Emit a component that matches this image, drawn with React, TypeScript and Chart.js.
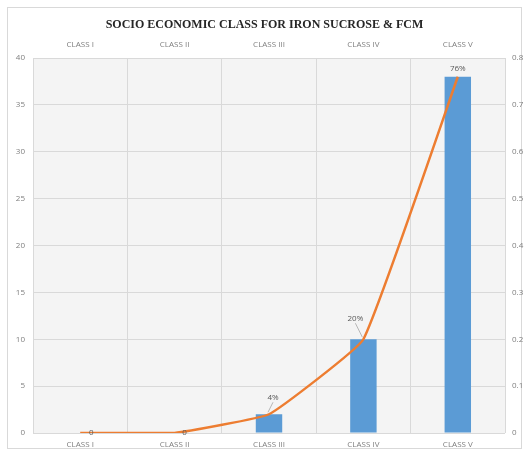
import React, { useEffect, useRef } from "react";
import { Chart, registerables } from "chart.js";

Chart.register(...registerables);

const categories = ["CLASS I", "CLASS II", "CLASS III", "CLASS IV", "CLASS V"];
const barValues = [0, 0, 2, 10, 38];
const lineValues = [0, 0, 0.04, 0.2, 0.76];
const lineLabels = ["0", "0", "4%", "20%", "76%"];
const leftTicks = [0, 5, 10, 15, 20, 25, 30, 35, 40];
const rightTicks = [0, 0.1, 0.2, 0.3, 0.4, 0.5, 0.6, 0.7, 0.8];
const titleText = "SOCIO ECONOMIC CLASS FOR IRON SUCROSE & FCM";

const TICK_FONT = "'Liberation Sans Narrow', 'Open Sans', 'Liberation Sans', sans-serif";

export default function App() {
  const ref = useRef<HTMLCanvasElement | null>(null);

  useEffect(() => {
    if (!ref.current) return;

    const bgPlugin = {
      id: "bgPlugin",
      beforeDraw(chart: any) {
        const { ctx, chartArea } = chart;
        ctx.save();
        ctx.fillStyle = "#ffffff";
        ctx.fillRect(0, 0, chart.width, chart.height);
        ctx.strokeStyle = "#d9d9d9";
        ctx.lineWidth = 1;
        ctx.strokeRect(7.5, 7.5, chart.width - 15, chart.height - 14);
        ctx.fillStyle = "#f4f4f4";
        ctx.fillRect(chartArea.left, chartArea.top, chartArea.right - chartArea.left, chartArea.bottom - chartArea.top);
        ctx.restore();
      },
    };

    // label offsets relative to each line point: [dx, dy, leader]
    const labelPlacement: [number, number, boolean][] = [
      [11, 0, false],
      [10, 0, false],
      [4, -17, true],
      [-8, -21, true],
      [0, -8, false],
    ];

    const labelPlugin = {
      id: "labelPlugin",
      afterDatasetsDraw(chart: any) {
        const { ctx } = chart;
        const meta = chart.getDatasetMeta(1);
        ctx.save();
        ctx.font = `8px ${TICK_FONT}`;
        ctx.fillStyle = "#595959";
        ctx.textAlign = "center";
        ctx.textBaseline = "middle";
        meta.data.forEach((pt: any, i: number) => {
          const [dx, dy, leader] = labelPlacement[i];
          const lx = pt.x + dx;
          const ly = pt.y + dy;
          if (leader) {
            ctx.strokeStyle = "#a6a6a6";
            ctx.lineWidth = 0.8;
            ctx.beginPath();
            ctx.moveTo(lx, ly + 5);
            ctx.lineTo(pt.x - 1, pt.y - 2);
            ctx.stroke();
          }
          ctx.fillText(lineLabels[i], lx, ly);
        });
        ctx.restore();
      },
    };

    const chart = new Chart(ref.current, {
      type: "bar",
      data: {
        labels: categories,
        datasets: [
          {
            type: "bar",
            label: "Count",
            data: barValues,
            backgroundColor: "#5b9bd5",
            borderWidth: 0,
            barPercentage: 0.56,
            categoryPercentage: 0.5,
            xAxisID: "x",
            yAxisID: "y",
            order: 2,
          },
          {
            type: "line",
            label: "Percent",
            data: lineValues,
            borderColor: "#ed7d31",
            borderWidth: 2.5,
            pointRadius: 0,
            tension: 0.1,
            fill: false,
            xAxisID: "x",
            yAxisID: "y1",
            order: 1,
          } as any,
        ],
      },
      options: {
        responsive: false,
        animation: false,
        layout: { padding: 0 },
        plugins: {
          legend: { display: false },
          tooltip: { enabled: false },
          title: {
            display: true,
            text: titleText,
            color: "#262626",
            font: { family: "'Liberation Serif', 'DejaVu Serif', serif", size: 12, weight: "bold" },
            padding: { top: 18, bottom: 6 },
          },
        },
        scales: {
          x: {
            type: "category",
            position: "bottom",
            grid: { color: "#d9d9d9", drawTicks: false, offset: true },
            border: { display: false },
            ticks: { color: "#7f7f7f", font: { family: TICK_FONT, size: 8 }, padding: 7, maxRotation: 0 },
            afterFit(axis: any) {
              axis.height = 22;
            },
          },
          x2: {
            type: "category",
            position: "top",
            labels: categories,
            grid: { display: false, drawTicks: false },
            border: { display: false },
            ticks: { color: "#7f7f7f", font: { family: TICK_FONT, size: 8 }, padding: 8, maxRotation: 0 },
            afterFit(axis: any) {
              axis.height = 19.6;
            },
          },
          y: {
            type: "linear",
            position: "left",
            min: 0,
            max: 40,
            afterBuildTicks(axis: any) {
              axis.ticks = leftTicks.map((v) => ({ value: v }));
            },
            grid: { color: "#d9d9d9", drawTicks: false },
            border: { display: false },
            ticks: { color: "#7f7f7f", font: { family: TICK_FONT, size: 8 }, padding: 8 },
            afterFit(axis: any) {
              axis.width = 33;
            },
          },
          y1: {
            type: "linear",
            position: "right",
            min: 0,
            max: 0.8,
            afterBuildTicks(axis: any) {
              axis.ticks = rightTicks.map((v) => ({ value: v }));
            },
            grid: { display: false, drawTicks: false },
            border: { display: false },
            ticks: {
              color: "#7f7f7f",
              font: { family: TICK_FONT, size: 8 },
              padding: 7,
              callback: (v: any) => String(Math.round(Number(v) * 10) / 10),
            },
            afterFit(axis: any) {
              axis.width = 24;
            },
          },
        },
      },
      plugins: [bgPlugin, labelPlugin],
    });

    return () => chart.destroy();
  }, []);

  return (
    <div style={{ position: "absolute", left: 0, top: 0, width: 529, height: 455 }}>
      <canvas ref={ref} width={529} height={455} style={{ display: "block" }} />
    </div>
  );
}
